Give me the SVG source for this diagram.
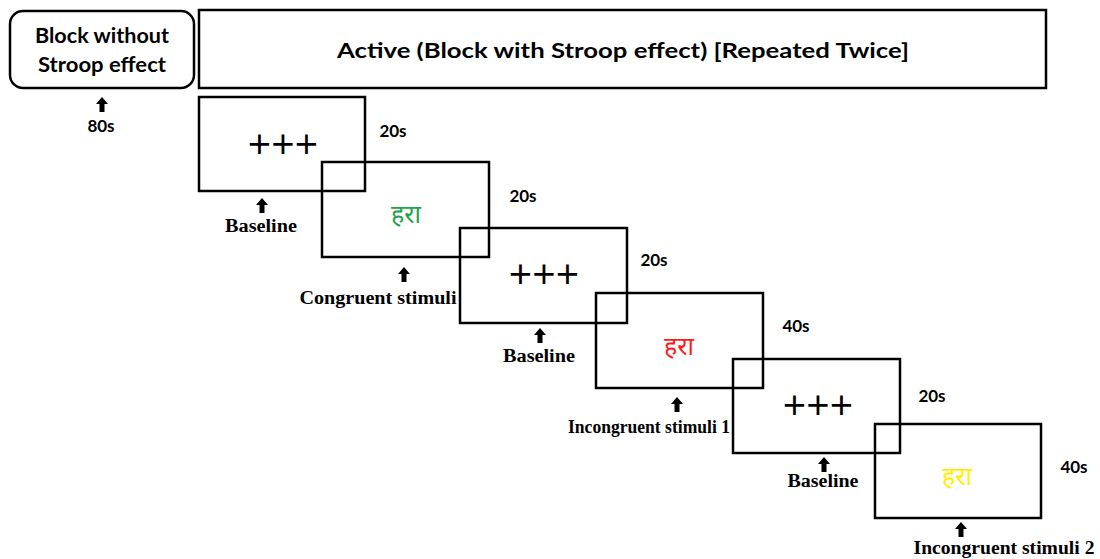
<svg xmlns="http://www.w3.org/2000/svg" width="1100" height="559" viewBox="0 0 1100 559">
  <style>
    .frame { fill: #fff; stroke: #000; stroke-width: 2.5; }
    .slide { fill: none; stroke: #000; stroke-width: 2.5; }
    .head { font-family: Lato, "Open Sans", "Liberation Sans", sans-serif; font-weight: bold; font-size: 21px; fill: #000; text-anchor: middle; }
    .dur { font-family: Lato, "Open Sans", "Liberation Sans", sans-serif; font-weight: bold; font-size: 17px; fill: #000; text-anchor: middle; }
    .cap { font-family: "Liberation Serif", serif; font-weight: bold; font-size: 18px; fill: #000; text-anchor: middle; }
    .fix { font-family: "Open Sans", "Liberation Sans", sans-serif; font-size: 41px; fill: #000; text-anchor: middle; }
    .word { font-family: "Noto Sans Devanagari", "Noto Sans", "Lohit Devanagari", sans-serif; font-size: 25px; text-anchor: middle; }
  </style>
  <defs>
    <!-- small block arrow pointing up, tip at origin -->
    <path id="up" d="M0,0 L6,7 L2.5,7 L2.5,15 L-2.5,15 L-2.5,7 L-6,7 Z" fill="#000"/>
  </defs>
  <rect width="1100" height="559" fill="#fff"/>

  <g id="block-rest">
    <rect class="frame" x="10" y="11" width="184" height="77" rx="13" ry="13"/>
    <text class="head" x="102" y="43" textLength="134" lengthAdjust="spacingAndGlyphs">Block without</text>
    <text class="head" x="102" y="72" textLength="128" lengthAdjust="spacingAndGlyphs">Stroop effect</text>
  </g>
  <g id="block-active">
    <rect class="frame" x="199" y="10" width="847" height="78" stroke-width="3"/>
    <text class="head" x="623" y="58" font-size="23" textLength="572" lengthAdjust="spacingAndGlyphs">Active (Block with Stroop effect) [Repeated Twice]</text>
  </g>

  <!-- stimulus slides, stacked diagonally -->
  <g id="slide1">
    <rect class="slide" x="199" y="97" width="166" height="94"/>
    <text class="fix" x="283" y="159">+++</text>
    <text class="dur" x="393" y="137">20s</text>
  </g>
  <g id="slide2">
    <rect class="slide" x="322" y="162" width="167" height="95"/>
    <text class="word" x="406" y="223" fill="#21a34a">हरा</text>
    <text class="dur" x="523" y="202">20s</text>
  </g>
  <g id="slide3">
    <rect class="slide" x="460" y="228" width="167" height="95"/>
    <text class="fix" x="544" y="289">+++</text>
    <text class="dur" x="654" y="266">20s</text>
  </g>
  <g id="slide4">
    <rect class="slide" x="596" y="293" width="167" height="95"/>
    <text class="word" x="679" y="355" fill="#ff1a1a">हरा</text>
    <text class="dur" x="796" y="332">40s</text>
  </g>
  <g id="slide5">
    <rect class="slide" x="733" y="359" width="167" height="94"/>
    <text class="fix" x="818" y="420">+++</text>
    <text class="dur" x="932" y="402">20s</text>
  </g>
  <g id="slide6">
    <rect class="slide" x="875" y="424" width="166" height="94"/>
    <text class="word" x="957" y="485" fill="#ffee00">हरा</text>
    <text class="dur" x="1074" y="473">40s</text>
  </g>

  <g id="connectors">
    <use href="#up" x="102" y="97"/>
    <use href="#up" x="262" y="198"/>
    <use href="#up" x="404" y="267"/>
    <use href="#up" x="540" y="328"/>
    <use href="#up" x="677" y="397"/>
    <use href="#up" x="824" y="457"/>
    <use href="#up" x="961" y="522"/>
  </g>

  <g id="captions">
    <text class="dur" x="101" y="132">80s</text>
    <text class="cap" x="261" y="232" font-size="19" textLength="72" lengthAdjust="spacingAndGlyphs">Baseline</text>
    <text class="cap" x="378" y="304" textLength="157" lengthAdjust="spacingAndGlyphs">Congruent stimuli</text>
    <text class="cap" x="539" y="362" font-size="19" textLength="72" lengthAdjust="spacingAndGlyphs">Baseline</text>
    <text class="cap" x="649" y="433" font-size="17" textLength="162" lengthAdjust="spacingAndGlyphs">Incongruent stimuli 1</text>
    <text class="cap" x="823" y="487" font-size="19" textLength="71" lengthAdjust="spacingAndGlyphs">Baseline</text>
    <text class="cap" x="1004" y="554" font-size="19" textLength="181" lengthAdjust="spacingAndGlyphs">Incongruent stimuli 2</text>
  </g>
</svg>
